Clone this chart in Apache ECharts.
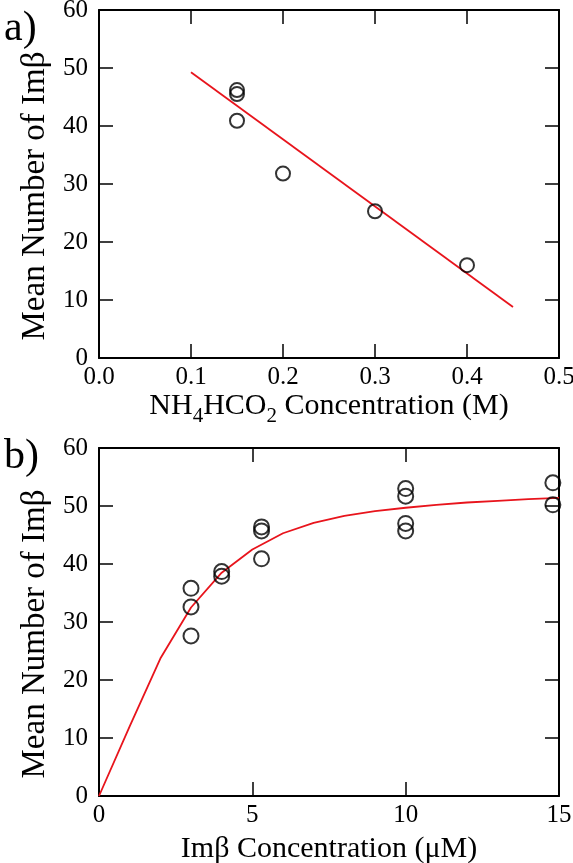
<!DOCTYPE html>
<html>
<head>
<meta charset="utf-8">
<script src="https://cdn.jsdelivr.net/npm/echarts@6/dist/echarts.min.js"></script>
<style>
html,body{margin:0;padding:0;background:#fff;}
#chart{width:573px;height:863px;}
</style>
</head>
<body>
<div id="chart"></div>
<script>
// Panel a: NH4HCO2 concentration vs mean number of Impβ
const aConc = [0.15, 0.15, 0.15, 0.2, 0.3, 0.4];
const aMean = [46.2, 45.5, 40.9, 31.8, 25.3, 16.0];
const aFitConc = [0.1, 0.45];
const aFitMean = [49.25, 8.8];

// Panel b: Impβ concentration vs mean number of Impβ
const bConc = [3, 3, 3, 4, 4, 5.3, 5.3, 5.3, 10, 10, 10, 10, 14.8, 14.8];
const bMean = [35.8, 32.6, 27.6, 38.7, 37.9, 46.4, 45.7, 40.9, 53.0, 51.7, 47.0, 45.7, 54.0, 50.2];
const bFitConc = [0, 1, 2, 3, 4, 5, 6, 7, 8, 9, 10, 11, 12, 13, 14, 15];
const bFitMean = [0, 12, 23.7, 32.5, 38.5, 42.5, 45.3, 47.1, 48.3, 49.1, 49.7, 50.2, 50.6, 50.9, 51.2, 51.4];

// Axis ranges [min, max, interval]
const aXRange = [0, 0.5, 0.1];
const bXRange = [0, 15, 5];
const yRange = [0, 60, 10];

const FONT = 'Liberation Serif';
const zip = (xs, ys) => xs.map((x, i) => [x, ys[i]]);

function xAx(grid, range, pos, showLabel, name, fmt, gap) {
  return {
    type: 'value', gridIndex: grid, position: pos,
    min: range[0], max: range[1], interval: range[2],
    axisLine: { show: true, onZero: false, lineStyle: { color: '#000', width: 2 } },
    axisTick: { show: true, inside: true, length: 14, lineStyle: { color: '#000', width: 1.5 } },
    axisLabel: { show: showLabel, margin: 7, color: '#000', fontFamily: FONT, fontSize: 25, formatter: fmt },
    splitLine: { show: false },
    name: name || '', nameLocation: 'middle', nameGap: gap || 26,
    nameTextStyle: {
      color: '#000', fontFamily: FONT, fontSize: 30,
      rich: {
        n: { fontFamily: FONT, fontSize: 30, color: '#000' },
        s: { fontFamily: FONT, fontSize: 21, color: '#000', padding: [20, 0, 0, 0] }
      }
    }
  };
}
function yAx(grid, pos, showLabel, name) {
  return {
    type: 'value', gridIndex: grid, position: pos,
    min: yRange[0], max: yRange[1], interval: yRange[2],
    axisLine: { show: true, onZero: false, lineStyle: { color: '#000', width: 2 } },
    axisTick: { show: true, inside: true, length: 14, lineStyle: { color: '#000', width: 1.5 } },
    axisLabel: { show: showLabel, margin: 11, color: '#000', fontFamily: FONT, fontSize: 25 },
    splitLine: { show: false },
    name: name || '', nameLocation: 'middle', nameGap: 43,
    nameTextStyle: { color: '#000', fontFamily: FONT, fontSize: 33, padding: [0, 24, 0, 0] }
  };
}

const chart = echarts.init(document.getElementById('chart'), null, { renderer: 'canvas' });
chart.setOption({
  backgroundColor: '#fff',
  animation: false,
  title: [
    { text: 'a)', left: -1, top: 3, textStyle: { fontFamily: FONT, fontSize: 42, fontWeight: 'normal', color: '#000' } },
    { text: 'b)', left: -1, top: 431, textStyle: { fontFamily: FONT, fontSize: 42, fontWeight: 'normal', color: '#000' } }
  ],
  grid: [
    { left: 99, right: 14, top: 10, height: 348, containLabel: false, outerBoundsMode: 'none' },
    { left: 99, right: 14, top: 448, height: 348, containLabel: false, outerBoundsMode: 'none' }
  ],
  xAxis: [
    xAx(0, aXRange, 'bottom', true, '{n|NH}{s|4}{n|HCO}{s|2}{n| Concentration (M)}', v => v.toFixed(1), 28),
    xAx(0, aXRange, 'top', false),
    xAx(1, bXRange, 'bottom', true, 'Imβ Concentration (μM)', v => String(v), 38),
    xAx(1, bXRange, 'top', false)
  ],
  yAxis: [
    yAx(0, 'left', true, 'Mean Number of Imβ'),
    yAx(0, 'right', false),
    yAx(1, 'left', true, 'Mean Number of Imβ'),
    yAx(1, 'right', false)
  ],
  series: [
    {
      type: 'line', xAxisIndex: 0, yAxisIndex: 0, data: zip(aFitConc, aFitMean),
      showSymbol: false, lineStyle: { color: '#e8141c', width: 1.8 }, z: 2
    },
    {
      type: 'scatter', xAxisIndex: 0, yAxisIndex: 0, data: zip(aConc, aMean),
      symbol: 'circle', symbolSize: 14,
      itemStyle: { color: 'rgba(0,0,0,0)', borderColor: '#000', borderWidth: 2 }, z: 3
    },
    {
      type: 'line', xAxisIndex: 2, yAxisIndex: 2, data: zip(bFitConc, bFitMean),
      showSymbol: false, smooth: false, lineStyle: { color: '#e8141c', width: 1.8 }, z: 2
    },
    {
      type: 'scatter', xAxisIndex: 2, yAxisIndex: 2, data: zip(bConc, bMean),
      symbol: 'circle', symbolSize: 15,
      itemStyle: { color: 'rgba(0,0,0,0)', borderColor: '#000', borderWidth: 2 }, z: 3
    }
  ]
});
</script>
</body>
</html>
